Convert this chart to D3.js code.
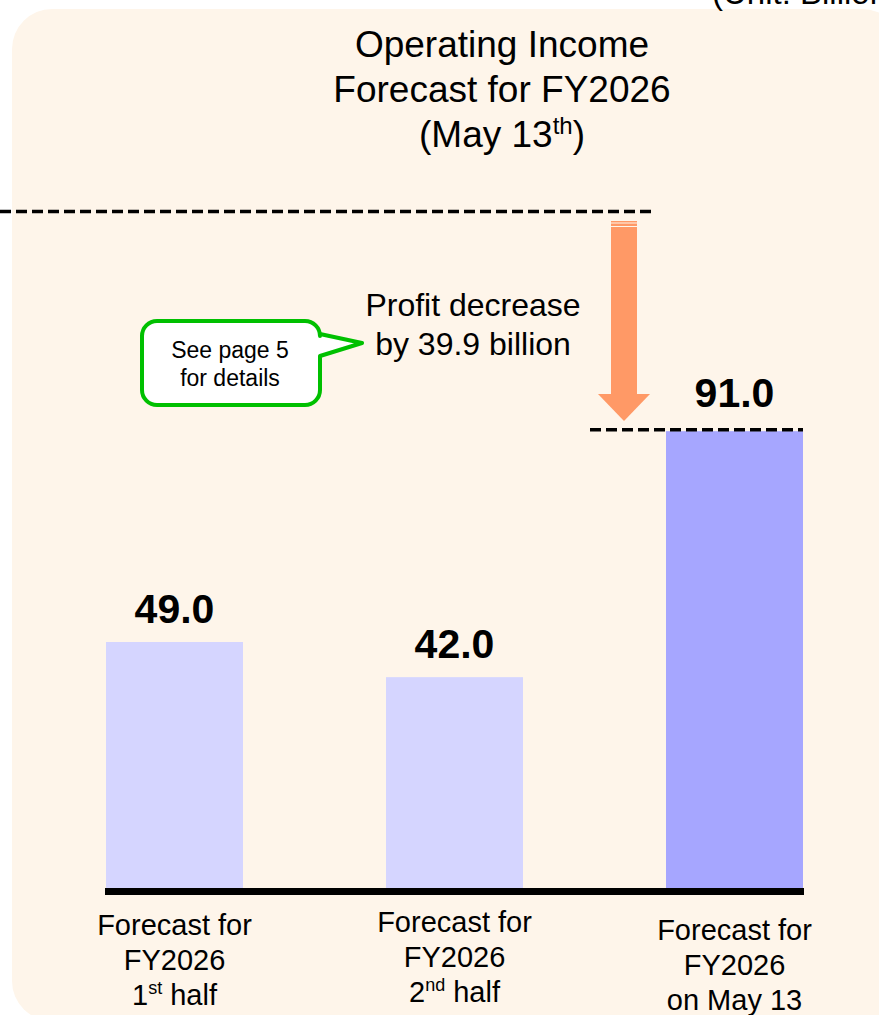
<!DOCTYPE html>
<html lang="en">
<head>
<meta charset="UTF-8">
<title>Operating Income Forecast</title>
<script src="https://cdn.jsdelivr.net/npm/d3@7"></script>
<style>
  html, body { margin: 0; padding: 0; background: #fff; }
  svg { display: block; font-family: "Liberation Sans", Arial, sans-serif; }
</style>
</head>
<body>
<div id="chart"></div>
<script>
// data
const categories = ["first", "second", "total"];
const values = [49.0, 42.0, 91.0];
const valueLabels = ["49.0", "42.0", "91.0"];
const labelLines = [
  [["Forecast for"], ["FY2026"], ["1", "st", " half"]],
  [["Forecast for"], ["FY2026"], ["2", "nd", " half"]],
  [["Forecast for"], ["FY2026"], ["on May 13"]]
];
const barColors = ["#d5d5ff", "#d5d5ff", "#a6a6ff"];
const decrease = 39.9;

const W = 879, H = 1015;
const svg = d3.select("#chart").append("svg")
  .attr("width", W).attr("height", H);

// background panel
svg.append("rect")
  .attr("x", 12).attr("y", 9)
  .attr("width", 890).attr("height", 1012)
  .attr("rx", 40)
  .attr("fill", "#fef5ea");

// unit label (cut off at the top, like the slide)
svg.append("text")
  .attr("x", 712).attr("y", 4)
  .attr("font-size", 33)
  .text("(Unit: Billion yen)");

// scales
const x = d3.scalePoint().domain(categories).range([174.5, 734.5]);
const barW = 137;
const y = d3.scaleLinear().domain([0, 100]).range([888, 386]);

// title
const title = svg.append("text")
  .attr("text-anchor", "middle")
  .attr("font-size", 37);
title.append("tspan").attr("x", 502).attr("y", 57).text("Operating Income");
title.append("tspan").attr("x", 502).attr("y", 102).text("Forecast for FY2026");

const l3 = svg.append("text")
  .attr("font-size", 37)
  .attr("text-anchor", "middle")
  .attr("x", 502).attr("y", 147);
l3.append("tspan").text("(May 13");
l3.append("tspan").attr("font-size", 24).attr("dy", -13).text("th");
l3.append("tspan").attr("dy", 13).text(")");

// bars
svg.append("g").selectAll("rect")
  .data(values)
  .join("rect")
  .attr("x", (d, i) => x(categories[i]) - barW / 2)
  .attr("y", d => y(d))
  .attr("width", barW)
  .attr("height", d => y(0) - y(d))
  .attr("fill", (d, i) => barColors[i]);

// baseline
svg.append("line")
  .attr("x1", x(categories[0]) - barW / 2 - 1)
  .attr("x2", x(categories[2]) + barW / 2 + 1)
  .attr("y1", y(0) + 3.5).attr("y2", y(0) + 3.5)
  .attr("stroke", "#000").attr("stroke-width", 7);

// value labels
svg.append("g").selectAll("text")
  .data(values)
  .join("text")
  .attr("x", (d, i) => x(categories[i]))
  .attr("y", (d, i) => y(d) - (i === 2 ? 24 : 19))
  .attr("text-anchor", "middle")
  .attr("font-size", 41)
  .attr("font-weight", "bold")
  .text((d, i) => valueLabels[i]);

// category labels
const baseY = [935, 932, 940];
labelLines.forEach((lines, i) => {
  const t = svg.append("text")
    .attr("text-anchor", "middle")
    .attr("font-size", 29);
  lines.forEach((parts, j) => {
    const line = t.append("tspan")
      .attr("x", x(categories[i]))
      .attr("y", baseY[i] + j * 35);
    if (parts.length === 1) {
      line.text(parts[0]);
    } else {
      line.append("tspan").text(parts[0]);
      line.append("tspan").attr("font-size", 18).attr("dy", -11).text(parts[1]);
      line.append("tspan").attr("dy", 11).text(parts[2]);
    }
  });
});

// dashed reference lines
svg.append("line")
  .attr("x1", 0).attr("x2", 651)
  .attr("y1", 211.5).attr("y2", 211.5)
  .attr("stroke", "#000").attr("stroke-width", 3.5)
  .attr("stroke-dasharray", "11,5");

svg.append("line")
  .attr("x1", 590).attr("x2", x(categories[2]) + barW / 2)
  .attr("y1", y(values[2]) - 1.5).attr("y2", y(values[2]) - 1.5)
  .attr("stroke", "#000").attr("stroke-width", 3.5)
  .attr("stroke-dasharray", "11,5");

// down arrow
const ax = 624, aTop = 221, aTip = 421;
const arrow = svg.append("g").attr("fill", "#ff9966");
arrow.append("rect").attr("x", ax - 13).attr("y", aTop).attr("width", 26).attr("height", 1.5);
arrow.append("rect").attr("x", ax - 13).attr("y", aTop + 2.5).attr("width", 26).attr("height", 2.5);
arrow.append("rect").attr("x", ax - 13).attr("y", aTop + 6).attr("width", 26).attr("height", aTip - 27 - aTop - 5);
arrow.append("path")
  .attr("d", `M${ax - 26},${aTip - 27}L${ax + 26},${aTip - 27}L${ax},${aTip}Z`);

// decrease text
const dt = svg.append("text")
  .attr("text-anchor", "middle")
  .attr("font-size", 32);
dt.append("tspan").attr("x", 473).attr("y", 316).text("Profit decrease");
dt.append("tspan").attr("x", 473).attr("y", 355).text("by " + decrease + " billion");

// callout
const cx0 = 142, cx1 = 320, cy0 = 321, cy1 = 405, r = 15;
const p = d3.path();
p.moveTo(cx0 + r, cy0);
p.lineTo(cx1 - r, cy0);
p.arcTo(cx1, cy0, cx1, cy0 + r, r);
p.lineTo(cx1, 334);
p.lineTo(362, 343);
p.lineTo(cx1, 356);
p.lineTo(cx1, cy1 - r);
p.arcTo(cx1, cy1, cx1 - r, cy1, r);
p.lineTo(cx0 + r, cy1);
p.arcTo(cx0, cy1, cx0, cy1 - r, r);
p.lineTo(cx0, cy0 + r);
p.arcTo(cx0, cy0, cx0 + r, cy0, r);
p.closePath();
svg.append("path")
  .attr("d", p.toString())
  .attr("fill", "#fff")
  .attr("stroke", "#00c000")
  .attr("stroke-width", 4)
  .attr("stroke-linejoin", "round");

const ct = svg.append("text")
  .attr("text-anchor", "middle")
  .attr("font-size", 23);
ct.append("tspan").attr("x", 230).attr("y", 358).text("See page 5");
ct.append("tspan").attr("x", 230).attr("y", 386).text("for details");
</script>
</body>
</html>
